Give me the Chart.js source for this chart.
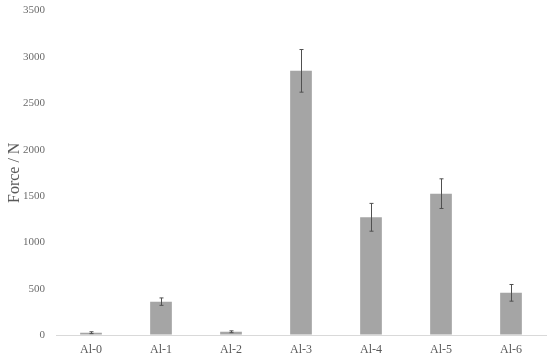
<!DOCTYPE html>
<html>
<head>
<meta charset="utf-8">
<script src="https://cdn.jsdelivr.net/npm/chart.js@4/dist/chart.umd.min.js"></script>
<style>
  html, body { margin: 0; padding: 0; background: #ffffff; }
  #wrap { width: 550px; height: 359px; }
</style>
</head>
<body>
<div id="wrap"><canvas id="forceChart"></canvas></div>
<script>
var samples = ['Al-0', 'Al-1', 'Al-2', 'Al-3', 'Al-4', 'Al-5', 'Al-6'];
var forceValues = [25, 360, 35, 2850, 1270, 1525, 455];
var forceErrors = [10, 40, 10, 230, 150, 160, 90];
var yTicks = [0, 500, 1000, 1500, 2000, 2500, 3000, 3500];

// draws the whiskers using the chart's own scales
var errorBars = {
    id: 'errorBars',
    afterDatasetsDraw: function (chart) {
        var ctx = chart.ctx;
        var yScale = chart.scales.y;
        var meta = chart.getDatasetMeta(0);
        ctx.save();
        ctx.strokeStyle = '#505050';
        ctx.lineWidth = 1;
        meta.data.forEach(function (bar, i) {
            var x = Math.round(bar.x) + 0.5;
            var top = yScale.getPixelForValue(forceValues[i] + forceErrors[i]);
            var bottom = yScale.getPixelForValue(forceValues[i] - forceErrors[i]);
            ctx.beginPath();
            ctx.moveTo(x, top);
            ctx.lineTo(x, bottom);
            ctx.moveTo(x - 2, top);
            ctx.lineTo(x + 2, top);
            ctx.moveTo(x - 2, bottom);
            ctx.lineTo(x + 2, bottom);
            ctx.stroke();
        });
        ctx.restore();
    }
};

var ctx = document.getElementById('forceChart').getContext('2d');

var myChart = new Chart(ctx, {
    type: 'bar',
    data: {
        labels: samples,
        datasets: [
            {
            label: 'Force',
            data: forceValues,
            backgroundColor: '#a5a5a5',
            borderWidth: 0,
            barPercentage: 0.31,
            categoryPercentage: 1.0
        }
    ]
    },
    options: {
        responsive: true,
        maintainAspectRatio: false,
        animation: false,
        layout: {
            padding: { top: 0, right: 4, bottom: 0, left: 0 }
        },
        plugins: {
            legend: { display: false },
            tooltip: { enabled: false }
        },
        scales: {
            x: {
                afterFit: function (scale) { scale.height = 24; },
                grid: { display: false, drawTicks: false },
                border: { display: true, color: '#d9d9d9', width: 1 },
                ticks: {
                    color: '#595959',
                    padding: 8,
                    font: { family: 'Liberation Serif', size: 12 }
                }
            },
            y: {
                min: 0,
                max: 3500,
                afterBuildTicks: function (scale) {
                    scale.ticks = yTicks.map(function (v) { return { value: v }; });
                },
                afterFit: function (scale) { scale.width = 56; },
                grid: {
                    display: true,
                    drawOnChartArea: false,
                    drawTicks: true,
                    tickLength: 7,
                    tickColor: 'rgba(0,0,0,0)'
                },
                border: { display: false },
                ticks: {
                    color: '#6b6b6b',
                    padding: 4,
                    font: { family: 'Liberation Serif', size: 11 },
                    callback: function (value) { return String(value); }
                },
                title: {
                    display: true,
                    text: 'Force / N',
                    color: '#595959',
                    padding: { top: 5, bottom: 0 },
                    font: { family: 'Liberation Serif', size: 16 }
                }
            }
        }
    },
    plugins: [errorBars]
});
</script>
</body>
</html>
